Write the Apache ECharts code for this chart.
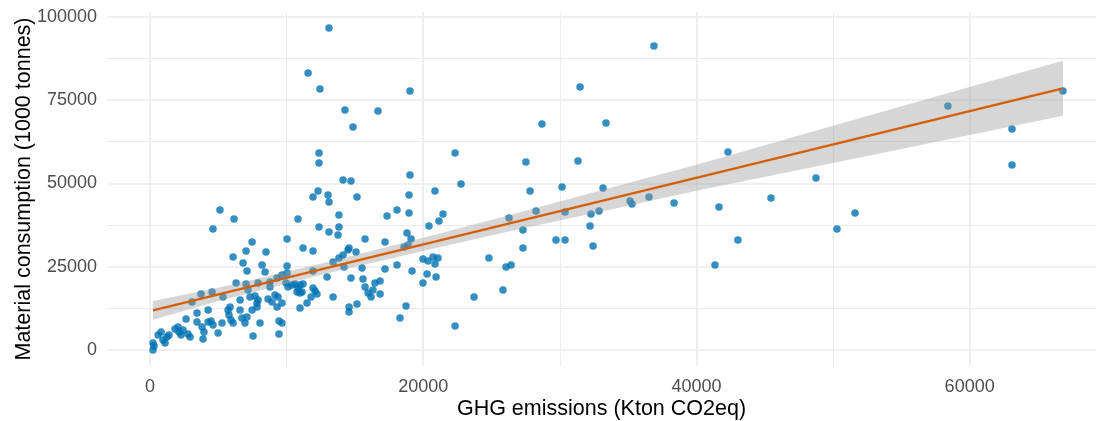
<!DOCTYPE html>
<html><head><meta charset="utf-8">
<script src="https://cdn.jsdelivr.net/npm/echarts@6/dist/echarts.min.js"></script>
<style>html,body{margin:0;padding:0;background:#fff}#c{width:1096px;height:421px}</style>
</head><body><div id="c"></div>
<script>
// GHG emissions (Kton CO2eq)
const ghg = [290,220,220,590,810,950,1100,1240,1390,1830,2050,2120,2270,2420,2640,2780,2930,3440,3810,3880,3950,4250,4250,4470,4610,4980,5270,3070,3730,4540,5340,5710,5780,5930,6080,5860,6590,6730,6950,7100,7470,7540,6590,6300,7030,7170,7320,7690,7830,6810,6080,7030,7100,7470,5120,6150,4610,8490,8200,8050,3440,
10830,10030,11200,11930,10030,10030,9660,9300,8780,7910,7910,8640,8930,9150,9370,9660,9300,7830,9440,9660,9440,9960,10100,10390,10610,10980,11200,10830,10760,11130,10980,11930,12080,12220,11790,11490,10980,12960,13400,11930,8420,8780,
13100,11570,12440,14270,14860,12370,12370,14130,14710,12300,13030,11930,15150,13100,13830,12370,13100,13830,13760,14570,14490,15080,14130,13830,13400,14200,14710,14570,14570,15150,
15740,15520,15590,15740,15960,16180,16320,16470,16840,16840,16690,17350,17200,18080,18080,17200,18590,18890,18810,19110,18960,18960,19030,19030,19180,18740,18300,19980,20350,20720,21080,20860,20280,20940,19980,20420,21150,21450,20860,22330,22770,22330,23720,
24810,26060,26430,25840,26280,27300,27300,27520,27820,28260,28690,29720,30380,30160,30380,31330,31480,33380,32210,32430,32280,32870,33160,35140,35280,36890,36530,38360,41650,42310,41360,43040,45460,48750,50290,51610,58410,63100,63100,66830];
// Material consumption (1000 tonnes)
const material = [1200,0,2100,4500,5400,3000,2100,3900,4500,6300,6900,5400,4500,6000,9300,4800,3900,8400,6900,3300,5400,12000,8400,8700,7500,5100,8100,14400,16800,17400,15900,12000,10500,9000,8100,12900,12000,9600,8100,9900,12000,4200,15000,20100,19800,18000,15900,16200,14100,26100,27900,29700,23700,32400,42000,39300,36300,29400,25500,8100,11100,
39300,33300,30600,29700,25200,23100,22500,21600,20400,20100,15000,15300,14400,16500,15900,14100,12900,12900,8700,8100,4800,20100,18900,19500,19800,19500,19800,18600,17400,17400,17100,18600,17700,16800,15900,14100,12600,21900,15900,23700,23400,18900,
96600,83100,78300,72000,66900,59100,56100,51000,50700,47700,46500,45900,45900,44400,40500,36900,35400,36900,34500,30600,30000,29400,28500,27600,26400,24900,21600,12900,11400,13800,
33300,24600,21300,18900,17100,15900,18000,20100,20700,16800,71700,40200,32400,42000,25500,24300,30900,31500,35100,33300,46500,41100,77700,52500,23700,13200,9600,27300,26700,27900,27600,25800,22800,21900,20100,37200,38700,40800,47700,59100,49800,7200,15900,
27600,24900,25500,18000,39600,36000,30600,56400,47700,41700,67800,33000,33000,48900,41400,56700,78900,68100,37200,31200,40800,41700,48600,44700,43800,91200,45900,44100,42900,59400,25500,33000,45600,51600,36300,41100,73200,66300,55500,77700];
// linear fit and its confidence band
const fitX = [220, 66830];
const fitY = [11900, 78500];
const bandX =     [220,   5000,  10000, 13000, 20000, 26000, 35000, 40000, 50000, 60000, 66830];
const bandLower = [9100,  14700, 19900, 23000, 29700, 35300, 43300, 47800, 56100, 64500, 70250];
const bandUpper = [14700, 18700, 23500, 26400, 33700, 40100, 50100, 55600, 67300, 78900, 86750];
// ticks
const xMajorTicks = [0, 20000, 40000, 60000];
const xMinorTicks = [10000, 30000, 50000];
const yMajorTicks = [0, 25000, 50000, 75000, 100000];
const yMinorTicks = [12500, 37500, 62500, 87500];

const FONT = '"Liberation Sans", Arial, sans-serif';
const X_MIN = -3150, X_MAX = 69250, Y_MIN = -4800, Y_MAX = 101400;
const gridColor = '#EBEBEB';

function gridAxis(custom, width, extra) {
  return Object.assign({
    type: 'value', axisLine: {show: false},
    axisTick: {show: false, customValues: custom},
    splitLine: {show: true, lineStyle: {color: gridColor, width: width}}
  }, extra);
}

const chart = echarts.init(document.getElementById('c'), null, {renderer: 'canvas'});
chart.setOption({
  animation: false,
  backgroundColor: '#ffffff',
  grid: {left: 107, right: 0, top: 12, bottom: 55, containLabel: false, outerBoundsMode: 'none'},
  xAxis: [
    gridAxis(xMajorTicks, 1.6, {
      min: X_MIN, max: X_MAX,
      axisLabel: {customValues: xMajorTicks, formatter: v => String(v), color: '#4D4D4D', fontSize: 18, fontFamily: FONT, margin: 12},
      name: 'GHG emissions (Kton CO2eq)', nameLocation: 'middle', nameGap: 32, nameMoveOverlap: false,
      nameTextStyle: {color: '#000', fontSize: 21.5, fontFamily: FONT}
    }),
    gridAxis(xMinorTicks, 1.1, {min: X_MIN, max: X_MAX, axisLabel: {show: false}})
  ],
  yAxis: [
    gridAxis(yMajorTicks, 1.6, {
      min: Y_MIN, max: Y_MAX,
      axisLabel: {customValues: yMajorTicks, formatter: v => String(v), color: '#4D4D4D', fontSize: 18, fontFamily: FONT, margin: 10},
      name: 'Material consumption (1000 tonnes)', nameLocation: 'middle', nameGap: 72, nameMoveOverlap: false,
      nameTextStyle: {color: '#000', fontSize: 21.5, fontFamily: FONT}
    }),
    gridAxis(yMinorTicks, 1.1, {min: Y_MIN, max: Y_MAX, axisLabel: {show: false}})
  ],
  series: [
    {
      type: 'scatter', xAxisIndex: 0, yAxisIndex: 0, z: 2,
      symbolSize: 7.5,
      itemStyle: {color: '#0072B2', opacity: 0.8},
      data: ghg.map((x, i) => [x, material[i]])
    },
    {
      type: 'custom', xAxisIndex: 0, yAxisIndex: 0, z: 3, silent: true,
      data: [[bandX[0], bandLower[0]]],
      renderItem: function (params, api) {
        const pts = [];
        for (let i = 0; i < bandX.length; i++) pts.push(api.coord([bandX[i], bandUpper[i]]));
        for (let i = bandX.length - 1; i >= 0; i--) pts.push(api.coord([bandX[i], bandLower[i]]));
        return {type: 'polygon', shape: {points: pts}, style: {fill: 'rgba(153,153,153,0.4)'}};
      }
    },
    {
      type: 'line', xAxisIndex: 0, yAxisIndex: 0, z: 4, showSymbol: false, silent: true,
      lineStyle: {color: '#D55E00', width: 2.4},
      data: fitX.map((x, i) => [x, fitY[i]])
    }
  ]
});
</script>
</body></html>
